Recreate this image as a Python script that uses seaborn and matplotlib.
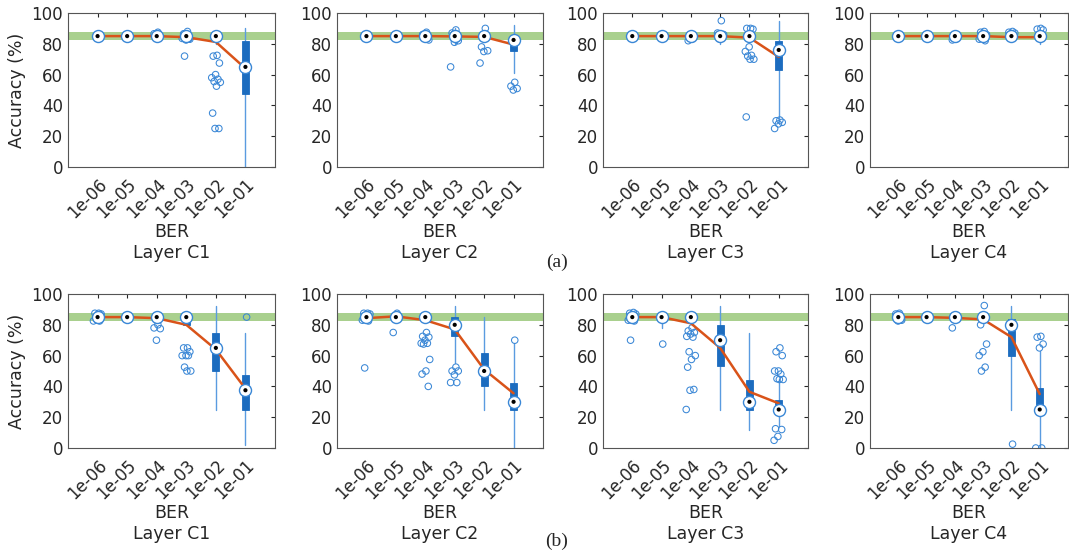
import numpy as np
import pandas as pd
import matplotlib
matplotlib.use("Agg")
import matplotlib.pyplot as plt
import seaborn as sns

BER = ["1e-06", "1e-05", "1e-04", "1e-03", "1e-02", "1e-01"]
LAYERS = ["Layer C1", "Layer C2", "Layer C3", "Layer C4"]
ROW_TAGS = ["(a)", "(b)"]
TARGET_LO, TARGET_HI = 82.5, 87.5

# ---- row (a): box stats per layer, one value per BER ----
MED_A = [[85, 85, 85, 85, 85, 65],
         [85, 85, 85, 85, 85, 82.5],
         [85, 85, 85, 85, 85, 76],
         [85, 85, 85, 85, 85, 85]]
Q1_A = [[85, 85, 85, 82.5, 85, 47.5],
        [85, 85, 85, 83, 85, 75.5],
        [85, 85, 85, 83, 85, 63],
        [85, 85, 85, 85, 85, 85]]
Q3_A = [[85, 85, 85, 85, 85, 82],
        [85, 85, 85, 88, 85, 82.5],
        [85, 85, 85, 88, 85, 82],
        [85, 85, 85, 85, 87.5, 85]]
WLO_A = [[85, 85, 85, 82.5, 80, 0],
         [85, 85, 85, 80, 85, 61],
         [85, 85, 85, 80, 85, 31],
         [85, 85, 85, 85, 85, 80]]
WHI_A = [[85, 85, 85, 85, 85, 90],
         [85, 85, 85, 90, 85, 92],
         [85, 85, 85, 88, 85, 95],
         [85, 85, 85, 85, 87.5, 87]]
MEAN_A = [[85, 85, 85, 84.3, 81.2, 64],
          [85, 85, 85, 84.8, 84.5, 79.5],
          [85, 85, 85, 85, 84, 71.5],
          [85, 85, 85, 85, 84.3, 84.3]]
OUT_A = [[[], [], [87.5, 86.5], [88, 86.5, 83, 82.5, 83.5, 83, 72],
          [72.5, 72, 67.5, 60, 58, 57, 55.5, 55, 52.5, 35, 25, 25], []],
         [[], [], [87.5, 86, 82.5], [89, 87, 82, 81, 65],
          [90, 78, 75.5, 75, 67.5], [55, 52.5, 51, 50]],
         [[], [], [83, 82], [95, 87, 86, 83],
          [90, 90, 89.5, 78, 75, 72.5, 72, 70, 70, 32.5], [30.5, 30, 29, 28, 25]],
         [[], [], [83, 82.5], [88, 87.5, 86, 84, 83, 82],
          [88, 87.5, 87, 86.5], [90, 89.5, 89]]]

# ---- row (b) ----
MED_B = [[85, 85, 85, 85, 65, 37.5],
         [85, 85, 85, 80, 50, 30],
         [85, 85, 85, 70, 30, 25],
         [85, 85, 85, 85, 80, 25]]
Q1_B = [[85, 82.5, 82.5, 80, 50, 25],
        [85, 82.5, 85, 73, 40, 25],
        [85, 85, 85, 53.5, 25, 25],
        [85, 82.5, 82.5, 85, 60, 25]]
Q3_B = [[85, 87.5, 87.5, 85, 75, 47.5],
        [85, 87.5, 85, 85, 62, 42],
        [85, 85, 85, 80, 44, 31],
        [85, 87.5, 85, 87.5, 84, 39]]
WLO_B = [[85, 82.5, 82.5, 80, 25, 2],
         [85, 82.5, 82, 55, 25, 0],
         [85, 78, 85, 25, 12, 14],
         [85, 82.5, 82.5, 85, 25, 0]]
WHI_B = [[85, 87.5, 87.5, 85, 92, 75],
         [85, 87.5, 85, 92, 85, 68],
         [85, 85, 85, 92, 75, 45],
         [85, 87.5, 85, 87.5, 92, 63]]
MEAN_B = [[85, 85, 84.3, 80, 64, 38.5],
          [84.3, 85.5, 83, 77, 51, 35.5],
          [85, 85, 81, 65, 36.5, 29],
          [85, 85, 84.5, 83.5, 72, 35]]
OUT_B = [[[87.5, 87.5, 87, 83, 82.5, 82.5], [], [80, 78, 77.5, 70],
          [65, 65, 62.5, 60, 60, 60, 52.5, 50, 50], [], [85]],
         [[87.5, 87.5, 87, 86, 83, 82.5, 52], [87.5, 75],
          [75, 72.5, 72, 70, 68, 68, 67.5, 57.5, 50, 48, 40],
          [52.5, 50, 50, 47.5, 42.5, 42.5], [], [70]],
         [[88, 87.5, 87, 83, 83, 82.5, 70], [67.5],
          [78, 76, 75, 74, 72.5, 72, 62.5, 60, 57.5, 52.5, 38, 37.5, 25], [], [],
          [65, 62.5, 60, 50, 50, 48, 45, 44.5, 44.5, 12.5, 12, 7.5, 5]],
         [[87.5, 87, 83, 82.5], [], [86, 78],
          [92.5, 80, 67.5, 62.5, 60, 52.5, 50], [2.5], [72.5, 72, 67.5, 65, 0, 0]]]

GREEN = "#a9d08e"
BOX = "#1c6cbf"
WHISK = "#5a9be0"
OUTC = "#3a87d6"
RED = "#d95319"

sns.set_style("white")
plt.rcParams["font.family"] = ["DejaVu Sans"]

fig = plt.figure(figsize=(10.69, 5.55), dpi=100)
W, H = 1069, 555
lefts = [68, 337, 603, 870]
rights = [275, 543, 808, 1068]
tops = [13, 294]
bottoms = [167, 448]


def jitter(n):
    return np.array([(((k + 1) * 0.618034) % 1 - 0.5) * 0.34 for k in range(n)])


def draw_panel(ax, med, q1, q3, wlo, whi, mean, out, layer, first):
    pos = np.arange(len(BER))
    ax.axhspan(TARGET_LO, TARGET_HI, color=GREEN, lw=0, zorder=0)
    stats = [dict(med=m, q1=a, q3=b, whislo=lo, whishi=hi, fliers=[])
             for m, a, b, lo, hi in zip(med, q1, q3, wlo, whi)]
    ax.bxp(stats, positions=pos, widths=0.24, patch_artist=True,
           showcaps=False, showfliers=False,
           boxprops=dict(facecolor=BOX, edgecolor=BOX, linewidth=0.6, zorder=2),
           whiskerprops=dict(color=WHISK, linewidth=1.0, zorder=1.5),
           medianprops=dict(linewidth=0))
    xs, ys = [], []
    for i, vals in enumerate(out):
        if vals:
            xs.extend(i + jitter(len(vals)))
            ys.extend(vals)
    if xs:
        df = pd.DataFrame({"x": xs, "acc": ys})
        sns.scatterplot(data=df, x="x", y="acc", ax=ax, marker="o", s=22,
                        facecolor="none", edgecolor=OUTC, linewidth=0.75, zorder=3)
    sns.lineplot(x=pos, y=mean, ax=ax, color=RED, lw=1.8, zorder=4)
    sns.scatterplot(x=pos, y=med, ax=ax, s=75, color="white",
                    edgecolor=OUTC, linewidth=1.0, zorder=5)
    sns.scatterplot(x=pos, y=med, ax=ax, s=9, color="black",
                    edgecolor="none", zorder=6)

    ax.set_xlim(-1, 6)
    ax.set_ylim(0, 100)
    ax.set_xticks(pos)
    ax.set_xticklabels(BER, rotation=45, ha="right", rotation_mode="anchor")
    ax.set_yticks(range(0, 101, 20))
    ax.tick_params(direction="in", length=3, top=True, right=True,
                   labelsize=12, colors="#262626")
    ax.tick_params(axis="x", pad=6)
    for s in ax.spines.values():
        s.set_color("#555555")
        s.set_linewidth(0.8)
    ax.set_xlabel("BER\n" + layer, fontsize=12.5, color="#262626",
                  linespacing=1.2, labelpad=1)
    ax.set_ylabel("Accuracy (%)" if first else "", fontsize=12.5, color="#262626")


rows = [(MED_A, Q1_A, Q3_A, WLO_A, WHI_A, MEAN_A, OUT_A),
        (MED_B, Q1_B, Q3_B, WLO_B, WHI_B, MEAN_B, OUT_B)]

for r, data in enumerate(rows):
    for c in range(4):
        ax = fig.add_axes([lefts[c] / W, 1 - bottoms[r] / H,
                           (rights[c] - lefts[c]) / W, (bottoms[r] - tops[r]) / H])
        draw_panel(ax, *[d[c] for d in data], LAYERS[c], c == 0)

fig.text(557 / W, 1 - 262 / H, ROW_TAGS[0], ha="center", va="center",
         family="Liberation Serif", fontsize=14)
fig.text(557 / W, 1 - 541 / H, ROW_TAGS[1], ha="center", va="center",
         family="Liberation Serif", fontsize=14)

fig.savefig("out.png", dpi=100)
